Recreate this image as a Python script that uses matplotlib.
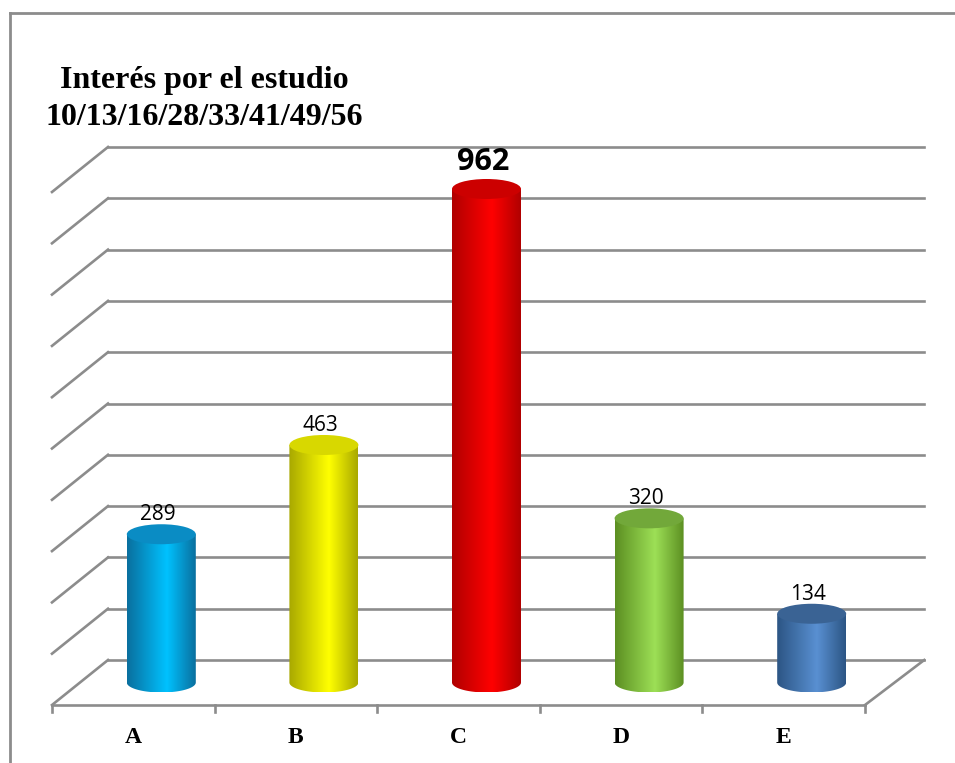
import matplotlib.pyplot as plt
import numpy as np
from matplotlib.colors import LinearSegmentedColormap
from matplotlib.patches import Ellipse
from matplotlib.path import Path
from matplotlib.patches import PathPatch

title = "Interés por el estudio\n10/13/16/28/33/41/49/56"
categories = ["A", "B", "C", "D", "E"]
values = [289, 463, 962, 320, 134]
# edge, highlight, top
bar_colors = [
    ("#0a6f9e", "#00c2ff", "#0a8cc4"),
    ("#a8a800", "#ffff00", "#d8d800"),
    ("#b00000", "#ff0000", "#cc0000"),
    ("#5c8f22", "#9de056", "#72a83a"),
    ("#2c5584", "#5990d2", "#3a6394"),
]
y_max = 1000
y_step = 100

W, H = 955, 763
fig = plt.figure(figsize=(W / 100, H / 100), dpi=100)
ax = fig.add_axes([0, 0, 1, 1])
ax.axis("off")

# pixel geometry -> data scale
px_x = 162.6          # pixels per category
px_y = 0.513          # pixels per value unit
x0_px, y0_px = 52, H - 705
ax.set_xlim(-0.5 - x0_px / px_x, -0.5 + (W - x0_px) / px_x)
ax.set_ylim(-y0_px / px_y, (H - y0_px) / px_y)

dx = 56 / px_x        # depth offset
dy = 45 / px_y
n = len(categories)
grid_c = "#8c8c8c"

# back wall + left wall gridlines
for v in np.arange(0, y_max + 1, y_step):
    ax.plot([-0.5 + dx, n - 0.5 + dx + 0.02], [v + dy, v + dy], color=grid_c, lw=1.9, zorder=1)
    if v > 0:
        ax.plot([-0.5, -0.5 + dx], [v, v + dy], color=grid_c, lw=1.9, zorder=1)
# floor
ax.plot([-0.5, -0.5 + dx], [0, dy], color=grid_c, lw=1.9, zorder=1)
ax.plot([n - 0.5, n - 0.5 + dx + 0.02], [0, dy], color=grid_c, lw=1.9, zorder=1)
ax.plot([-0.5, n - 0.5], [0, 0], color=grid_c, lw=1.9, zorder=1)
for i in range(n + 1):
    ax.plot([i - 0.5, i - 0.5], [0, -14], color=grid_c, lw=1.9, zorder=1)

# frame
ax.plot([10 / px_x - 0.5 - x0_px / px_x] * 2, [-y0_px / px_y, (H - 13 - y0_px) / px_y],
        color="#8c8c8c", lw=2, zorder=1)
ax.plot([10 / px_x - 0.5 - x0_px / px_x, 10], [(H - 13 - y0_px) / px_y] * 2,
        color="#8c8c8c", lw=2, zorder=1)

# cylinders
bw = 69 / px_x
eh = 20 / px_y
for i, (cat, val, (c_edge, c_hi, c_top)) in enumerate(zip(categories, values, bar_colors)):
    cx = i + dx / 2
    base = dy / 2
    top = base + val
    left, right = cx - bw / 2, cx + bw / 2
    cmap = LinearSegmentedColormap.from_list(
        "c%d" % i, [(0, c_edge), (0.58, c_hi), (1, c_edge)])
    grad = np.linspace(0, 1, 256).reshape(1, -1)
    im = ax.imshow(grad, cmap=cmap, aspect="auto", extent=[left, right, base - eh / 2, top],
                   zorder=3, interpolation="bilinear")
    t = np.linspace(np.pi, 2 * np.pi, 60)
    verts = [(left, top)] + [(cx + bw / 2 * np.cos(a), base + eh / 2 * np.sin(a)) for a in t] + [(right, top), (left, top)]
    clip = PathPatch(Path(verts), transform=ax.transData, facecolor="none", edgecolor="none")
    ax.add_patch(clip)
    im.set_clip_path(clip)
    ax.add_patch(Ellipse((cx, top), bw, eh, angle=0, facecolor=c_top, edgecolor="none", zorder=4))
    if val == max(values):
        ax.text(cx - 0.02, top + eh / 2 + 4, str(val), ha="center", va="bottom",
                fontsize=22, fontweight="bold", family="Open Sans", zorder=5)
    else:
        ax.text(cx - 0.02, top + eh / 2 - 2, str(val), ha="center", va="bottom",
                fontsize=15, family="Open Sans", zorder=5)
    ax.text(i, -64, cat, ha="center", va="center", fontsize=17, fontweight="bold",
            family="Liberation Serif")

ax.text(-0.5 + (204 - x0_px) / px_x, (H - 99 - y0_px) / px_y, title, ha="center", va="center",
        fontsize=23, fontweight="bold", family="Liberation Serif", linespacing=1.38)

plt.savefig("out.png", dpi=100)
